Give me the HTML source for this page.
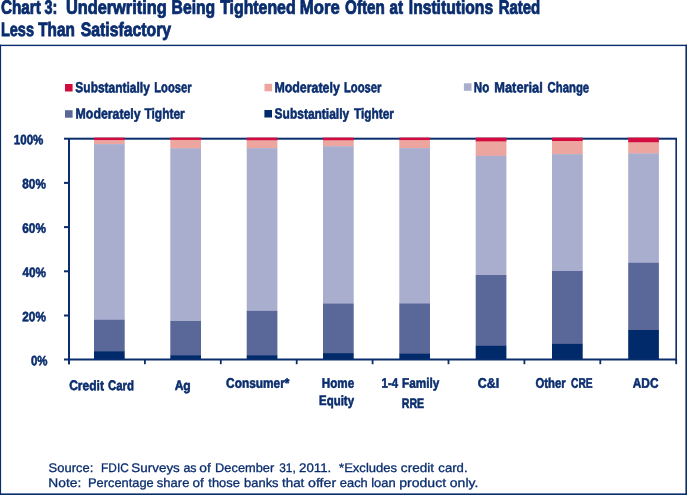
<!DOCTYPE html>
<html lang="en"><head><meta charset="utf-8"><title>Chart 3</title>
<style>
html,body{margin:0;padding:0;background:#fff;}
body{width:687px;height:495px;position:relative;overflow:hidden;font-family:"Liberation Sans",sans-serif;color:#0a2d6e;}
.t{position:absolute;white-space:pre;text-rendering:geometricPrecision;font-weight:bold;transform-origin:0 0;}
.t{-webkit-text-stroke:0.55px #0a2d6e;}
.t.h{-webkit-text-stroke:0.85px #0a2d6e;}
.t.r{font-weight:normal;-webkit-text-stroke:0.3px #0a2d6e;}
svg{position:absolute;left:0;top:0;}
.tx{position:absolute;left:0;top:0;width:687px;height:495px;will-change:transform;}
</style></head><body>
<svg width="687" height="495" viewBox="0 0 687 495">
<rect x="0" y="44.7" width="687" height="1.4" fill="#0a2d6e"/>
<rect x="0" y="493.4" width="687" height="1.6" fill="#0a2d6e"/>
<rect x="0" y="44.7" width="1.1" height="450.3" fill="#0a2d6e"/>
<rect x="685.4" y="44.7" width="1.6" height="450.3" fill="#0a2d6e"/>
<rect x="64" y="137.7" width="613" height="2" fill="#0a2d6e"/>
<rect x="675.4" y="138.5" width="1.6" height="222" fill="#0a2d6e"/>
<rect x="94.0" y="137.6" width="30.7" height="2.90" fill="#d40b3e"/>
<rect x="94.0" y="140.2" width="30.7" height="4.20" fill="#eda59f"/>
<rect x="94.0" y="144.1" width="30.7" height="176.00" fill="#a9aecf"/>
<rect x="94.0" y="319.8" width="30.7" height="31.70" fill="#5a6799"/>
<rect x="94.0" y="351.2" width="30.7" height="8.60" fill="#012a6b"/>
<rect x="170.3" y="137.6" width="30.7" height="2.60" fill="#d40b3e"/>
<rect x="170.3" y="139.9" width="30.7" height="8.70" fill="#eda59f"/>
<rect x="170.3" y="148.3" width="30.7" height="173.00" fill="#a9aecf"/>
<rect x="170.3" y="321.0" width="30.7" height="34.50" fill="#5a6799"/>
<rect x="170.3" y="355.2" width="30.7" height="4.60" fill="#012a6b"/>
<rect x="246.7" y="137.6" width="30.7" height="3.10" fill="#d40b3e"/>
<rect x="246.7" y="140.4" width="30.7" height="8.00" fill="#eda59f"/>
<rect x="246.7" y="148.1" width="30.7" height="163.10" fill="#a9aecf"/>
<rect x="246.7" y="310.9" width="30.7" height="44.60" fill="#5a6799"/>
<rect x="246.7" y="355.2" width="30.7" height="4.60" fill="#012a6b"/>
<rect x="323.0" y="137.6" width="30.7" height="3.10" fill="#d40b3e"/>
<rect x="323.0" y="140.4" width="30.7" height="6.10" fill="#eda59f"/>
<rect x="323.0" y="146.2" width="30.7" height="157.60" fill="#a9aecf"/>
<rect x="323.0" y="303.5" width="30.7" height="49.90" fill="#5a6799"/>
<rect x="323.0" y="353.1" width="30.7" height="6.70" fill="#012a6b"/>
<rect x="399.3" y="137.6" width="30.7" height="2.90" fill="#d40b3e"/>
<rect x="399.3" y="140.2" width="30.7" height="8.20" fill="#eda59f"/>
<rect x="399.3" y="148.1" width="30.7" height="155.60" fill="#a9aecf"/>
<rect x="399.3" y="303.4" width="30.7" height="50.60" fill="#5a6799"/>
<rect x="399.3" y="353.7" width="30.7" height="6.10" fill="#012a6b"/>
<rect x="475.7" y="137.6" width="30.7" height="4.20" fill="#d40b3e"/>
<rect x="475.7" y="141.5" width="30.7" height="14.60" fill="#eda59f"/>
<rect x="475.7" y="155.8" width="30.7" height="119.50" fill="#a9aecf"/>
<rect x="475.7" y="275.0" width="30.7" height="71.10" fill="#5a6799"/>
<rect x="475.7" y="345.8" width="30.7" height="14.00" fill="#012a6b"/>
<rect x="552.0" y="137.6" width="30.7" height="3.80" fill="#d40b3e"/>
<rect x="552.0" y="141.1" width="30.7" height="13.30" fill="#eda59f"/>
<rect x="552.0" y="154.1" width="30.7" height="117.20" fill="#a9aecf"/>
<rect x="552.0" y="271.0" width="30.7" height="73.20" fill="#5a6799"/>
<rect x="552.0" y="343.9" width="30.7" height="15.90" fill="#012a6b"/>
<rect x="628.2" y="137.6" width="30.7" height="5.10" fill="#d40b3e"/>
<rect x="628.2" y="142.4" width="30.7" height="11.30" fill="#eda59f"/>
<rect x="628.2" y="153.4" width="30.7" height="109.70" fill="#a9aecf"/>
<rect x="628.2" y="262.8" width="30.7" height="67.50" fill="#5a6799"/>
<rect x="628.2" y="330.0" width="30.7" height="29.80" fill="#012a6b"/>
<rect x="68" y="138.5" width="2" height="225.9" fill="#0a2d6e"/>
<rect x="64" y="358.5" width="613" height="2" fill="#0a2d6e"/>
<rect x="64" y="181.90" width="5" height="2" fill="#0a2d6e"/>
<rect x="64" y="226.10" width="5" height="2" fill="#0a2d6e"/>
<rect x="64" y="270.30" width="5" height="2" fill="#0a2d6e"/>
<rect x="64" y="314.50" width="5" height="2" fill="#0a2d6e"/>
<rect x="144.00" y="359" width="1.8" height="5.2" fill="#0a2d6e"/>
<rect x="219.90" y="359" width="1.8" height="5.2" fill="#0a2d6e"/>
<rect x="295.80" y="359" width="1.8" height="5.2" fill="#0a2d6e"/>
<rect x="371.70" y="359" width="1.8" height="5.2" fill="#0a2d6e"/>
<rect x="447.60" y="359" width="1.8" height="5.2" fill="#0a2d6e"/>
<rect x="523.50" y="359" width="1.8" height="5.2" fill="#0a2d6e"/>
<rect x="599.40" y="359" width="1.8" height="5.2" fill="#0a2d6e"/>
<rect x="675.30" y="359" width="1.8" height="5.2" fill="#0a2d6e"/>
<rect x="65.0" y="84.0" width="7.6" height="7.5" fill="#d40b3e"/>
<rect x="264.5" y="83.8" width="7.6" height="7.5" fill="#eda59f"/>
<rect x="463.9" y="83.3" width="7.6" height="7.5" fill="#a9aecf"/>
<rect x="65.0" y="110.2" width="7.6" height="7.5" fill="#5a6799"/>
<rect x="264.4" y="110.0" width="7.6" height="7.5" fill="#012a6b"/>
</svg>
<div class="tx">
<span class="t h" style="left:0;top:0;font-size:19.3px;line-height:19.3px;transform:translate(1.01px,-1.34px) matrix(0.7920,0.001,0,1,0,0)">Chart</span>
<span class="t h" style="left:0;top:0;font-size:19.3px;line-height:19.3px;transform:translate(44.57px,-1.34px) matrix(0.7490,0.001,0,1,0,0)">3:</span>
<span class="t h" style="left:0;top:0;font-size:19.3px;line-height:19.3px;transform:translate(65.89px,-1.34px) matrix(0.8473,0.001,0,1,0,0)">Underwriting</span>
<span class="t h" style="left:0;top:0;font-size:19.3px;line-height:19.3px;transform:translate(171.58px,-1.34px) matrix(0.8143,0.001,0,1,0,0)">Being</span>
<span class="t h" style="left:0;top:0;font-size:19.3px;line-height:19.3px;transform:translate(220.13px,-1.34px) matrix(0.8228,0.001,0,1,0,0)">Tightened</span>
<span class="t h" style="left:0;top:0;font-size:19.3px;line-height:19.3px;transform:translate(299.86px,-1.34px) matrix(0.8637,0.001,0,1,0,0)">More</span>
<span class="t h" style="left:0;top:0;font-size:19.3px;line-height:19.3px;transform:translate(345.06px,-1.34px) matrix(0.7890,0.001,0,1,0,0)">Often</span>
<span class="t h" style="left:0;top:0;font-size:19.3px;line-height:19.3px;transform:translate(389.51px,-1.34px) matrix(0.7851,0.001,0,1,0,0)">at</span>
<span class="t h" style="left:0;top:0;font-size:19.3px;line-height:19.3px;transform:translate(408.78px,-1.34px) matrix(0.8115,0.001,0,1,0,0)">Institutions</span>
<span class="t h" style="left:0;top:0;font-size:19.3px;line-height:19.3px;transform:translate(498.72px,-1.34px) matrix(0.7752,0.001,0,1,0,0)">Rated</span>
<span class="t h" style="left:0;top:0;font-size:19.3px;line-height:19.3px;transform:translate(0.91px,20.96px) matrix(0.7524,0.001,0,1,0,0)">Less</span>
<span class="t h" style="left:0;top:0;font-size:19.3px;line-height:19.3px;transform:translate(38.17px,20.96px) matrix(0.7944,0.001,0,1,0,0)">Than</span>
<span class="t h" style="left:0;top:0;font-size:19.3px;line-height:19.3px;transform:translate(80.75px,20.96px) matrix(0.8188,0.001,0,1,0,0)">Satisfactory</span>
<span class="t" style="left:0;top:0;font-size:14.6px;line-height:14.6px;transform:translate(75.34px,81.34px) matrix(0.8201,0.001,0,1,0,0)">Substantially</span>
<span class="t" style="left:0;top:0;font-size:14.6px;line-height:14.6px;transform:translate(154.28px,81.34px) matrix(0.7658,0.001,0,1,0,0)">Looser</span>
<span class="t" style="left:0;top:0;font-size:14.6px;line-height:14.6px;transform:translate(274.38px,81.34px) matrix(0.8495,0.001,0,1,0,0)">Moderately</span>
<span class="t" style="left:0;top:0;font-size:14.6px;line-height:14.6px;transform:translate(343.91px,81.34px) matrix(0.7722,0.001,0,1,0,0)">Looser</span>
<span class="t" style="left:0;top:0;font-size:14.6px;line-height:14.6px;transform:translate(473.80px,81.34px) matrix(0.7918,0.001,0,1,0,0)">No</span>
<span class="t" style="left:0;top:0;font-size:14.6px;line-height:14.6px;transform:translate(494.33px,81.34px) matrix(0.8774,0.001,0,1,0,0)">Material</span>
<span class="t" style="left:0;top:0;font-size:14.6px;line-height:14.6px;transform:translate(547.58px,81.34px) matrix(0.7771,0.001,0,1,0,0)">Change</span>
<span class="t" style="left:0;top:0;font-size:14.6px;line-height:14.6px;transform:translate(75.60px,107.59px) matrix(0.8440,0.001,0,1,0,0)">Moderately</span>
<span class="t" style="left:0;top:0;font-size:14.6px;line-height:14.6px;transform:translate(144.38px,107.59px) matrix(0.8209,0.001,0,1,0,0)">Tighter</span>
<span class="t" style="left:0;top:0;font-size:14.6px;line-height:14.6px;transform:translate(274.61px,107.59px) matrix(0.8209,0.001,0,1,0,0)">Substantially</span>
<span class="t" style="left:0;top:0;font-size:14.6px;line-height:14.6px;transform:translate(353.95px,107.59px) matrix(0.8141,0.001,0,1,0,0)">Tighter</span>
<span class="t" style="left:0;top:0;font-size:13.5px;line-height:13.5px;transform:translate(13.81px,133.27px) matrix(0.8573,0.001,0,1,0,0)">100%</span>
<span class="t" style="left:0;top:0;font-size:13.5px;line-height:13.5px;transform:translate(22.28px,177.37px) matrix(0.8742,0.001,0,1,0,0)">80%</span>
<span class="t" style="left:0;top:0;font-size:13.5px;line-height:13.5px;transform:translate(22.26px,221.67px) matrix(0.8752,0.001,0,1,0,0)">60%</span>
<span class="t" style="left:0;top:0;font-size:13.5px;line-height:13.5px;transform:translate(22.39px,265.87px) matrix(0.8707,0.001,0,1,0,0)">40%</span>
<span class="t" style="left:0;top:0;font-size:13.5px;line-height:13.5px;transform:translate(22.28px,310.17px) matrix(0.8741,0.001,0,1,0,0)">20%</span>
<span class="t" style="left:0;top:0;font-size:13.5px;line-height:13.5px;transform:translate(30.99px,354.27px) matrix(0.8495,0.001,0,1,0,0)">0%</span>
<span class="t" style="left:0;top:0;font-size:13.8px;line-height:13.8px;transform:translate(69.16px,379.12px) matrix(0.8717,0.001,0,1,0,0)">Credit</span>
<span class="t" style="left:0;top:0;font-size:13.8px;line-height:13.8px;transform:translate(107.95px,379.12px) matrix(0.8258,0.001,0,1,0,0)">Card</span>
<span class="t" style="left:0;top:0;font-size:13.8px;line-height:13.8px;transform:translate(174.63px,379.12px) matrix(0.8748,0.001,0,1,0,0)">Ag</span>
<span class="t" style="left:0;top:0;font-size:13.8px;line-height:13.8px;transform:translate(226.07px,376.72px) matrix(0.8608,0.001,0,1,0,0)">Consumer*</span>
<span class="t" style="left:0;top:0;font-size:13.8px;line-height:13.8px;transform:translate(321.71px,376.72px) matrix(0.8454,0.001,0,1,0,0)">Home</span>
<span class="t" style="left:0;top:0;font-size:13.8px;line-height:13.8px;transform:translate(381.62px,376.72px) matrix(0.8240,0.001,0,1,0,0)">1-4</span>
<span class="t" style="left:0;top:0;font-size:13.8px;line-height:13.8px;transform:translate(402.00px,376.72px) matrix(0.8539,0.001,0,1,0,0)">Family</span>
<span class="t" style="left:0;top:0;font-size:13.8px;line-height:13.8px;transform:translate(477.86px,376.72px) matrix(0.8994,0.001,0,1,0,0)">C&amp;I</span>
<span class="t" style="left:0;top:0;font-size:13.8px;line-height:13.8px;transform:translate(535.51px,376.72px) matrix(0.8218,0.001,0,1,0,0)">Other</span>
<span class="t" style="left:0;top:0;font-size:13.8px;line-height:13.8px;transform:translate(571.10px,376.72px) matrix(0.7376,0.001,0,1,0,0)">CRE</span>
<span class="t" style="left:0;top:0;font-size:13.8px;line-height:13.8px;transform:translate(632.82px,376.72px) matrix(0.8574,0.001,0,1,0,0)">ADC</span>
<span class="t" style="left:0;top:0;font-size:13.8px;line-height:13.8px;transform:translate(319.12px,394.12px) matrix(0.8273,0.001,0,1,0,0)">Equity</span>
<span class="t" style="left:0;top:0;font-size:13.8px;line-height:13.8px;transform:translate(401.79px,396.92px) matrix(0.7682,0.001,0,1,0,0)">RRE</span>
<span class="t r" style="left:0;top:0;font-size:12.5px;line-height:12.5px;transform:translate(48.61px,461.92px) matrix(1.0356,0.001,0,1,0,0)">Source:</span>
<span class="t r" style="left:0;top:0;font-size:12.5px;line-height:12.5px;transform:translate(101.12px,461.92px) matrix(0.9485,0.001,0,1,0,0)">FDIC</span>
<span class="t r" style="left:0;top:0;font-size:12.5px;line-height:12.5px;transform:translate(131.36px,461.92px) matrix(1.0727,0.001,0,1,0,0)">Surveys</span>
<span class="t r" style="left:0;top:0;font-size:12.5px;line-height:12.5px;transform:translate(183.39px,461.92px) matrix(0.9949,0.001,0,1,0,0)">as</span>
<span class="t r" style="left:0;top:0;font-size:12.5px;line-height:12.5px;transform:translate(199.37px,461.92px) matrix(1.1030,0.001,0,1,0,0)">of</span>
<span class="t r" style="left:0;top:0;font-size:12.5px;line-height:12.5px;transform:translate(215.12px,461.92px) matrix(1.0245,0.001,0,1,0,0)">December</span>
<span class="t r" style="left:0;top:0;font-size:12.5px;line-height:12.5px;transform:translate(279.20px,461.92px) matrix(0.9537,0.001,0,1,0,0)">31,</span>
<span class="t r" style="left:0;top:0;font-size:12.5px;line-height:12.5px;transform:translate(299.06px,461.92px) matrix(1.0624,0.001,0,1,0,0)">2011.</span>
<span class="t r" style="left:0;top:0;font-size:12.5px;line-height:12.5px;transform:translate(339.06px,461.92px) matrix(1.0437,0.001,0,1,0,0)">*Excludes</span>
<span class="t r" style="left:0;top:0;font-size:12.5px;line-height:12.5px;transform:translate(400.85px,461.92px) matrix(1.0874,0.001,0,1,0,0)">credit</span>
<span class="t r" style="left:0;top:0;font-size:12.5px;line-height:12.5px;transform:translate(438.37px,461.92px) matrix(1.0494,0.001,0,1,0,0)">card.</span>
<span class="t r" style="left:0;top:0;font-size:12.5px;line-height:12.5px;transform:translate(48.30px,477.02px) matrix(1.1013,0.001,0,1,0,0)">Note:</span>
<span class="t r" style="left:0;top:0;font-size:12.5px;line-height:12.5px;transform:translate(88.00px,477.02px) matrix(1.0271,0.001,0,1,0,0)">Percentage</span>
<span class="t r" style="left:0;top:0;font-size:12.5px;line-height:12.5px;transform:translate(156.87px,477.02px) matrix(1.0387,0.001,0,1,0,0)">share</span>
<span class="t r" style="left:0;top:0;font-size:12.5px;line-height:12.5px;transform:translate(192.58px,477.02px) matrix(1.0803,0.001,0,1,0,0)">of</span>
<span class="t r" style="left:0;top:0;font-size:12.5px;line-height:12.5px;transform:translate(208.32px,477.02px) matrix(1.0354,0.001,0,1,0,0)">those</span>
<span class="t r" style="left:0;top:0;font-size:12.5px;line-height:12.5px;transform:translate(244.08px,477.02px) matrix(1.0340,0.001,0,1,0,0)">banks</span>
<span class="t r" style="left:0;top:0;font-size:12.5px;line-height:12.5px;transform:translate(281.98px,477.02px) matrix(1.0719,0.001,0,1,0,0)">that</span>
<span class="t r" style="left:0;top:0;font-size:12.5px;line-height:12.5px;transform:translate(307.99px,477.02px) matrix(1.1365,0.001,0,1,0,0)">offer</span>
<span class="t r" style="left:0;top:0;font-size:12.5px;line-height:12.5px;transform:translate(339.81px,477.02px) matrix(1.0320,0.001,0,1,0,0)">each</span>
<span class="t r" style="left:0;top:0;font-size:12.5px;line-height:12.5px;transform:translate(371.22px,477.02px) matrix(1.0389,0.001,0,1,0,0)">loan</span>
<span class="t r" style="left:0;top:0;font-size:12.5px;line-height:12.5px;transform:translate(399.17px,477.02px) matrix(1.1268,0.001,0,1,0,0)">product</span>
<span class="t r" style="left:0;top:0;font-size:12.5px;line-height:12.5px;transform:translate(449.81px,477.02px) matrix(1.1215,0.001,0,1,0,0)">only.</span>
</div>
</body></html>
